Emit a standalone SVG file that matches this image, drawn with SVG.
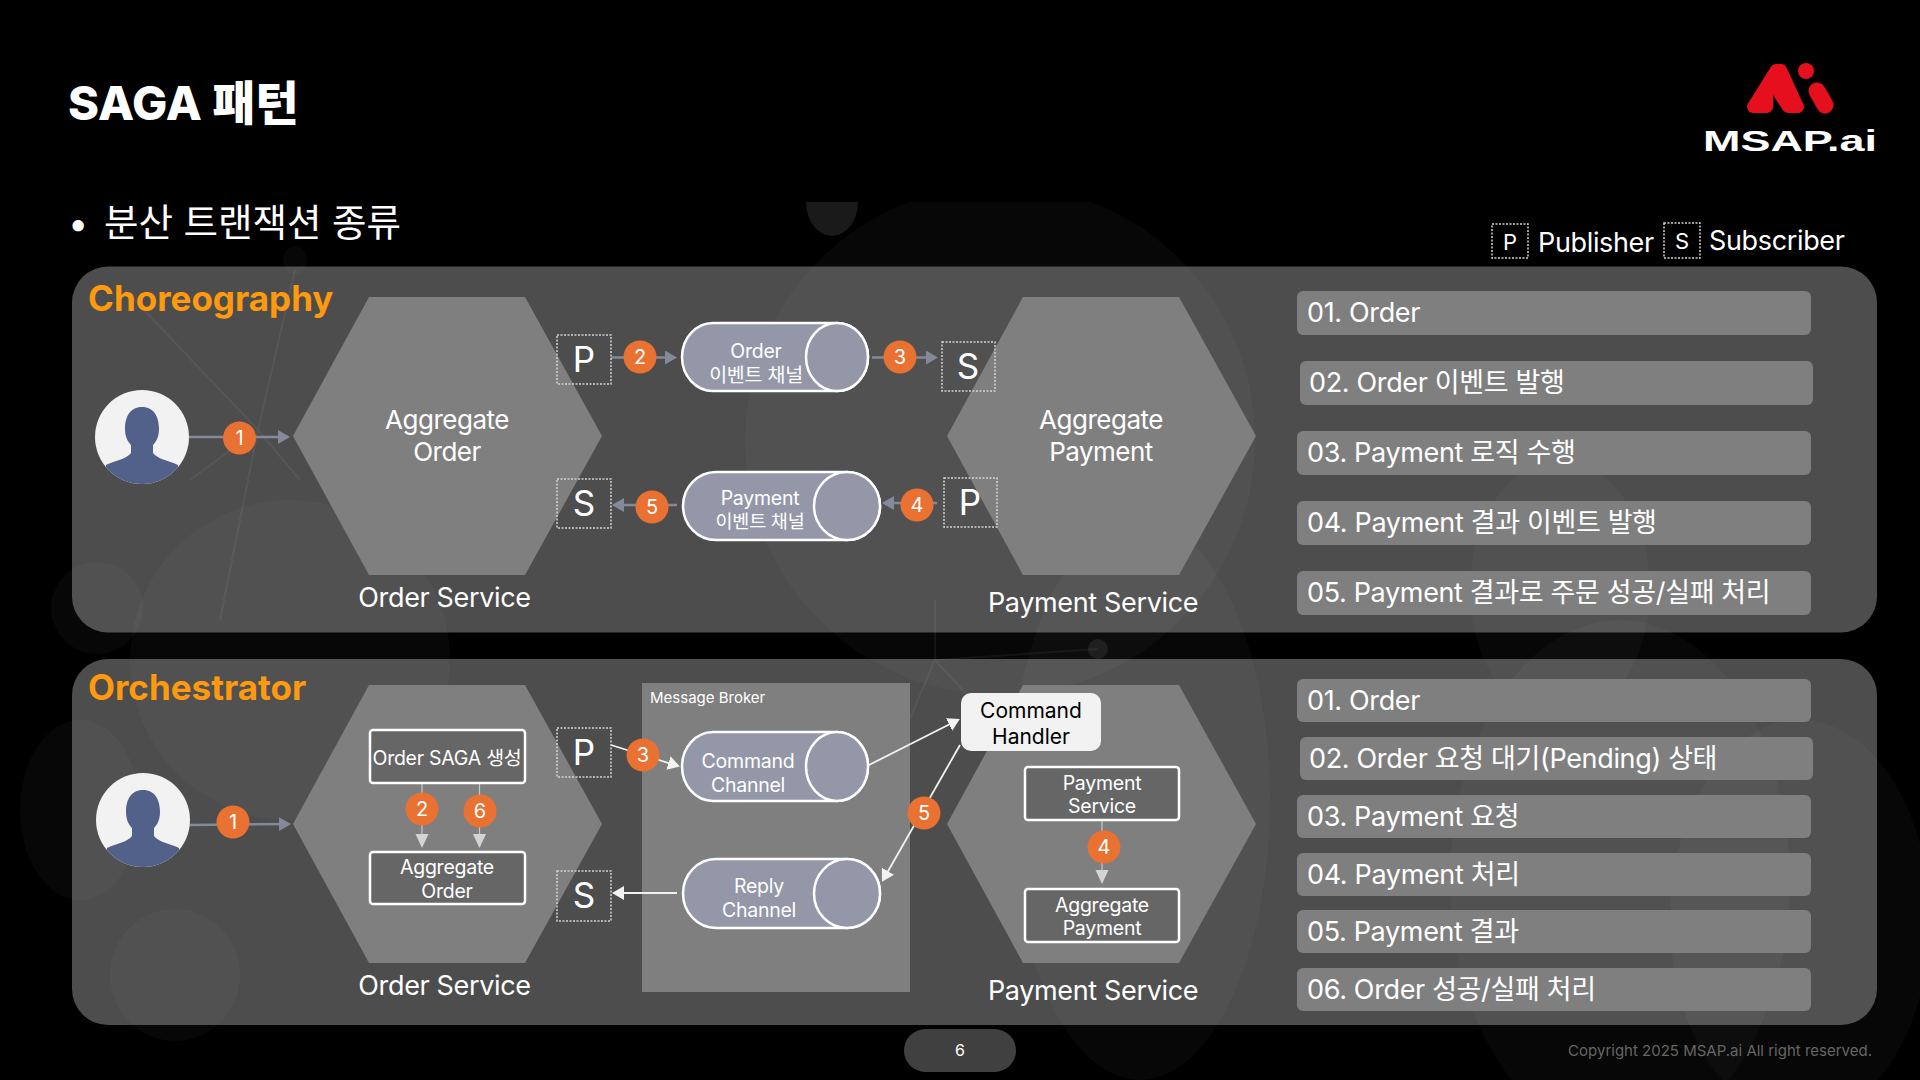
<svg xmlns="http://www.w3.org/2000/svg" width="1920" height="1080" viewBox="0 0 1920 1080">
<style>
text{font-family:"Inter","Noto Sans CJK KR","Noto Sans",sans-serif;fill:#fff}
.panel{fill:#fff;fill-opacity:.3}
.hex{fill:#7f7f7f}
.row{fill:#7f7f7f}
.rt{font-size:27px;letter-spacing:-.35px}
.dot{fill:none;stroke:#d4d4d4;stroke-width:1.5;stroke-dasharray:2 1.5}
.pl{font-size:35px;text-anchor:middle}
.cyl{fill:#9397a8;stroke:#fff;stroke-width:2.5}
.ct{font-size:19.500px;letter-spacing:-.25px;text-anchor:middle}
.lbl{font-size:26px;letter-spacing:-.5px;text-anchor:middle}
.svc{font-size:27px;letter-spacing:-.35px;text-anchor:middle}
.ib{fill:#666;stroke:#fff;stroke-width:2.5}
.bd{fill:#e97132}
.bt{font-size:20px;text-anchor:middle}
.gl{stroke:#858a9b;stroke-width:2.5;fill:none}
.wl{stroke:#f2f2f2;stroke-width:1.8;fill:none}
.ll{stroke:#c8c8c8;stroke-width:1.2;fill:none}
.bub{fill:#fff;fill-opacity:.028}
.ray{stroke:#fff;stroke-opacity:.055;stroke-width:2;fill:none}
</style>
<defs>
<marker id="ag" markerUnits="userSpaceOnUse" markerWidth="14" markerHeight="16" refX="10" refY="7" orient="auto"><path d="M0,0L12,7L0,14Z" fill="#858a9b"/></marker>
<marker id="aw" markerUnits="userSpaceOnUse" markerWidth="14" markerHeight="16" refX="10" refY="7" orient="auto"><path d="M0,0L12,7L0,14Z" fill="#f2f2f2"/></marker>
<marker id="al" markerUnits="userSpaceOnUse" markerWidth="16" markerHeight="14" refX="12" refY="6.5" orient="auto"><path d="M0,0L14,6.5L0,13Z" fill="#d4d4d4"/></marker>
<clipPath id="bgclip"><rect x="0" y="202" width="1920" height="878"/></clipPath>
<clipPath id="pc"><circle cx="0" cy="0" r="47"/></clipPath>
<g id="person"><circle r="47" fill="#f2f2f2"/><g clip-path="url(#pc)"><path d="M0,-30C-12,-30 -17,-20 -17,-8C-17,0 -14,5 -11,8L-11,16C-15,22 -28,24 -36,28L-36,50L36,50L36,28C28,24 15,22 11,16L11,8C14,5 17,0 17,-8C17,-20 12,-30 0,-30Z" fill="#52618a"/></g></g>
</defs>
<rect width="1920" height="1080" fill="#000"/>
<g id="background" clip-path="url(#bgclip)">
<path d="M806,202a26,34 0 0 0 52,0Z" fill="#fff" fill-opacity=".1"/>
<ellipse class="bub" cx="97" cy="608" rx="46" ry="46"/>
<circle class="bub" cx="290" cy="660" r="160"/>
<circle class="bub" cx="1000" cy="440" r="255"/>
<ellipse class="bub" cx="175" cy="975" rx="65" ry="66"/>
<ellipse class="bub" cx="80" cy="810" rx="60" ry="90"/>
<ellipse class="bub" cx="1140" cy="800" rx="130" ry="280"/>
<ellipse class="bub" cx="1560" cy="590" rx="90" ry="130"/>
<ellipse class="bub" cx="1620" cy="880" rx="170" ry="260"/>
<ellipse class="bub" cx="1800" cy="920" rx="130" ry="200"/>
<ellipse class="bub" cx="295" cy="260" rx="12" ry="14"/>
<circle cx="1098" cy="649" r="10" fill="#fff" fill-opacity=".08"/>
<path class="ray" d="M258,430L125,290M258,430L295,270M258,430L220,620M258,430L190,480M258,430L300,480"/>
<path class="ray" d="M935,660L1098,649M935,660L905,730M935,660L990,720M935,660L935,600"/>
</g>
<rect class="panel" x="72" y="266.500" width="1805" height="366" rx="36"/>
<rect class="panel" x="72" y="659" width="1805" height="366" rx="36"/>
<g id="title"><text x="68" y="120" font-size="47" font-weight="800">SAGA 패턴</text></g>
<g id="subtitle"><text x="68" y="236" font-size="36">•</text><text x="104" y="236" font-size="37.500">분산 트랜잭션 종류</text></g>
<g id="logo"><path d="M1753,107L1776,70L1781,70L1798,107L1788,107L1773,84L1767,84L1767,107Z" fill="#e60f1e" stroke="#e60f1e" stroke-width="12" stroke-linejoin="round"/><circle cx="1806" cy="71" r="8" fill="#e60f1e"/><path d="M1817,91L1825,105" stroke="#e60f1e" stroke-width="17" stroke-linecap="round"/><text x="1703" y="151" font-size="29" font-weight="700" textLength="174" lengthAdjust="spacingAndGlyphs" style="font-family:'Liberation Sans',sans-serif">MSAP.ai</text></g>
<g id="legend"><rect class="dot" x="1492" y="224" width="36" height="34"/><text x="1510" y="250" font-size="22" text-anchor="middle">P</text><text x="1538" y="252" font-size="27" letter-spacing="-.35">Publisher</text><rect class="dot" x="1664" y="223" width="36" height="35"/><text x="1682" y="249" font-size="22" text-anchor="middle">S</text><text x="1709" y="250" font-size="27" letter-spacing="-.35">Subscriber</text></g>
<g id="choreo-label"><text x="88" y="311" font-size="35" font-weight="700" style="fill:#ff9a0e">Choreography</text></g>
<g id="orch-label"><text x="88" y="700" font-size="35" font-weight="700" style="fill:#ff9a0e">Orchestrator</text></g>

<g id="hex-order-1"><polygon class="hex" points="293,436 369,297 525,297 602,436 525,575 369,575"/><text class="lbl" x="447" y="429">Aggregate</text><text class="lbl" x="447" y="461">Order</text><text class="svc" x="444.500" y="607">Order Service</text></g>
<g id="hex-payment-1"><polygon class="hex" points="947,436 1023,297 1179,297 1256,436 1179,575 1023,575"/><text class="lbl" x="1101" y="429">Aggregate</text><text class="lbl" x="1101" y="461">Payment</text><text class="svc" x="1093" y="612">Payment Service</text></g>
<g id="hex-order-2"><polygon class="hex" points="293,824 369,685 525,685 602,824 525,963 369,963"/><text class="svc" x="444.500" y="995">Order Service</text></g>
<g id="hex-payment-2"><polygon class="hex" points="947,824 1023,685 1179,685 1256,824 1179,963 1023,963"/><text class="svc" x="1093" y="1000">Payment Service</text></g>
<g id="broker"><rect x="642" y="683" width="268" height="309" fill="#7f7f7f"/><text x="650" y="703" font-size="15">Message Broker</text></g>

<g id="connectors">
<path class="gl" d="M189,437H288" marker-end="url(#ag)"/>
<path class="gl" d="M611,357.500H675" marker-end="url(#ag)"/>
<path class="gl" d="M872,357.500H936" marker-end="url(#ag)"/>
<path class="gl" d="M677,505H614" marker-end="url(#ag)"/>
<path class="gl" d="M937,503H884" marker-end="url(#ag)"/>
<path class="gl" d="M190,825L289,824" marker-end="url(#ag)"/>
<path class="wl" d="M611,745L678,766" marker-end="url(#aw)"/>
<path class="wl" d="M869,765L958,720" marker-end="url(#aw)"/>
<path class="wl" d="M960,745L883,880" marker-end="url(#aw)"/>
<path class="wl" d="M677,893H614" marker-end="url(#aw)"/>
<path class="ll" d="M422,783V846" marker-end="url(#al)"/>
<path class="ll" d="M479.500,783V846" marker-end="url(#al)"/>
<path class="ll" d="M1102,820V882" marker-end="url(#al)"/>
</g>

<g id="user-1"><use href="#person" transform="translate(142,437)"/></g>
<g id="user-2"><use href="#person" transform="translate(143,820)"/></g>

<g id="p-1"><rect class="dot" x="557" y="335" width="54" height="49"/><text class="pl" x="584" y="372">P</text></g>
<g id="s-1"><rect class="dot" x="942" y="342" width="53" height="49"/><text class="pl" x="968" y="379">S</text></g>
<g id="s-2"><rect class="dot" x="557" y="479" width="54" height="49"/><text class="pl" x="584" y="516">S</text></g>
<g id="p-2"><rect class="dot" x="944" y="478" width="53" height="49"/><text class="pl" x="970" y="515">P</text></g>
<g id="p-3"><rect class="dot" x="557" y="728" width="54" height="49"/><text class="pl" x="584" y="765">P</text></g>
<g id="s-3"><rect class="dot" x="557" y="871" width="54" height="50"/><text class="pl" x="584" y="908">S</text></g>

<g id="cyl-order"><rect class="cyl" x="682" y="323" width="186" height="68" rx="31" ry="34"/><ellipse class="cyl" cx="837" cy="357" rx="31" ry="34"/><text class="ct" x="756" y="358">Order</text><text class="ct" x="756" y="382" font-size="18.500">이벤트 채널</text></g>
<g id="cyl-payment"><rect class="cyl" x="683" y="472" width="197" height="68" rx="33" ry="34"/><ellipse class="cyl" cx="847" cy="506" rx="33" ry="34"/><text class="ct" x="760" y="505">Payment</text><text class="ct" x="760" y="528" style="font-size:18.500px">이벤트 채널</text></g>
<g id="cyl-command"><rect class="cyl" x="682" y="732" width="186" height="69" rx="31" ry="34.500"/><ellipse class="cyl" cx="837" cy="766.500" rx="31" ry="34.500"/><text class="ct" x="748" y="768">Command</text><text class="ct" x="748" y="792">Channel</text></g>
<g id="cyl-reply"><rect class="cyl" x="683" y="859" width="197" height="69" rx="33" ry="34.500"/><ellipse class="cyl" cx="847" cy="893.500" rx="33" ry="34.500"/><text class="ct" x="759" y="893">Reply</text><text class="ct" x="759" y="917">Channel</text></g>

<g id="box-saga"><rect class="ib" x="370" y="730" width="155" height="53" rx="3"/><text class="ct" x="447" y="765">Order SAGA 생성</text></g>
<g id="box-agg-order"><rect class="ib" x="370" y="852" width="155" height="52" rx="3"/><text class="ct" x="447" y="874">Aggregate</text><text class="ct" x="447" y="898">Order</text></g>
<g id="box-pay-svc"><rect class="ib" x="1025" y="767" width="154" height="53" rx="3"/><text class="ct" x="1102" y="790">Payment</text><text class="ct" x="1102" y="813">Service</text></g>
<g id="box-agg-pay"><rect class="ib" x="1025" y="889" width="154" height="53" rx="3"/><text class="ct" x="1102" y="912">Aggregate</text><text class="ct" x="1102" y="935">Payment</text></g>
<g id="cmd-handler"><rect x="961" y="693" width="140" height="58" rx="10" fill="#f2f2f2"/><text x="1031" y="718" font-size="21" text-anchor="middle" style="fill:#000">Command</text><text x="1031" y="744" font-size="21" text-anchor="middle" style="fill:#000">Handler</text></g>

<g id="badges">
<g id="b1-1"><circle class="bd" cx="239.500" cy="438" r="16.500"/><text class="bt" x="239.500" y="445">1</text></g>
<g id="b1-2"><circle class="bd" cx="640" cy="357" r="16.500"/><text class="bt" x="640" y="364">2</text></g>
<g id="b1-3"><circle class="bd" cx="900" cy="357" r="16.500"/><text class="bt" x="900" y="364">3</text></g>
<g id="b1-4"><circle class="bd" cx="917" cy="505" r="16.500"/><text class="bt" x="917" y="512">4</text></g>
<g id="b1-5"><circle class="bd" cx="652" cy="507" r="16.500"/><text class="bt" x="652" y="514">5</text></g>
<g id="b2-1"><circle class="bd" cx="233" cy="822" r="16.500"/><text class="bt" x="233" y="829">1</text></g>
<g id="b2-2"><circle class="bd" cx="422" cy="809" r="16.500"/><text class="bt" x="422" y="816">2</text></g>
<g id="b2-6"><circle class="bd" cx="480" cy="811" r="16.500"/><text class="bt" x="480" y="818">6</text></g>
<g id="b2-3"><circle class="bd" cx="643" cy="755" r="16.500"/><text class="bt" x="643" y="762">3</text></g>
<g id="b2-5"><circle class="bd" cx="924" cy="813" r="16.500"/><text class="bt" x="924" y="820">5</text></g>
<g id="b2-4"><circle class="bd" cx="1104" cy="847" r="16.500"/><text class="bt" x="1104" y="854">4</text></g>
</g>

<g id="steps-1">
<g><rect class="row" x="1297" y="291" width="514" height="44" rx="6"/><text class="rt" x="1307" y="322">01. Order</text></g>
<g><rect class="row" x="1300" y="361" width="513" height="44" rx="6"/><text class="rt" x="1309" y="392">02. Order 이벤트 발행</text></g>
<g><rect class="row" x="1297" y="431" width="514" height="44" rx="6"/><text class="rt" x="1307" y="462">03. Payment 로직 수행</text></g>
<g><rect class="row" x="1297" y="501" width="514" height="44" rx="6"/><text class="rt" x="1307" y="532">04. Payment 결과 이벤트 발행</text></g>
<g><rect class="row" x="1297" y="571" width="514" height="44" rx="6"/><text class="rt" x="1307" y="602">05. Payment 결과로 주문 성공/실패 처리</text></g>
</g>
<g id="steps-2">
<g><rect class="row" x="1297" y="679" width="514" height="43" rx="6"/><text class="rt" x="1307" y="710">01. Order</text></g>
<g><rect class="row" x="1300" y="737" width="513" height="43" rx="6"/><text class="rt" x="1309" y="768">02. Order 요청 대기(Pending) 상태</text></g>
<g><rect class="row" x="1297" y="795" width="514" height="43" rx="6"/><text class="rt" x="1307" y="826">03. Payment 요청</text></g>
<g><rect class="row" x="1297" y="853" width="514" height="43" rx="6"/><text class="rt" x="1307" y="884">04. Payment 처리</text></g>
<g><rect class="row" x="1297" y="910" width="514" height="43" rx="6"/><text class="rt" x="1307" y="941">05. Payment 결과</text></g>
<g><rect class="row" x="1297" y="968" width="514" height="43" rx="6"/><text class="rt" x="1307" y="999">06. Order 성공/실패 처리</text></g>
</g>
<g id="page"><rect x="904" y="1029" width="112" height="43" rx="21.500" fill="#404040"/><text x="960" y="1056" font-size="16" text-anchor="middle">6</text></g>
<g id="copyright"><text x="1872" y="1056" font-size="15" text-anchor="end" style="fill:#666">Copyright 2025 MSAP.ai All right reserved.</text></g>
</svg>
